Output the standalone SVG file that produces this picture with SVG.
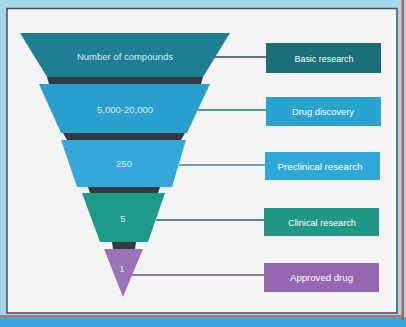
<svg xmlns="http://www.w3.org/2000/svg" width="406" height="327" viewBox="0 0 406 327">
<style>
.ft{font-family:"Liberation Sans",Arial,sans-serif;font-size:9.5px;fill:#d6eef4;text-anchor:middle}
.bt{font-family:"Liberation Sans",Arial,sans-serif;font-size:9.5px;fill:#ffffff;text-anchor:middle}
.band{fill:#2f3a44}
.ln{stroke-width:1.6;fill:none}
</style>
<rect x="0" y="0" width="406" height="327" fill="#a3d8ec"/>
<rect x="0" y="317" width="406" height="10" fill="#3ba6df"/>
<rect x="401.5" y="0" width="2.5" height="320" fill="#c8564a"/>
<rect x="0" y="315" width="404" height="2" fill="#c86a60"/>
<rect x="7" y="8.5" width="390" height="304.5" fill="#f4f4f7" stroke="#4e4e50" stroke-width="1.5"/>
<g id="connectors">
<line class="ln" x1="214" y1="57" x2="267" y2="57" stroke="#2c4b55"/>
<line class="ln" x1="198" y1="110" x2="267" y2="110" stroke="#2a6c7c"/>
<line class="ln" x1="179" y1="165" x2="267" y2="165" stroke="#3a8aa0"/>
<line class="ln" x1="156" y1="220" x2="265" y2="220" stroke="#1f6b62"/>
<line class="ln" x1="132" y1="275" x2="265" y2="275" stroke="#6b5584"/>
</g>
<g id="funnel-1">
<polygon points="20,33 230,33 203,77 47,77" fill="#1f7f92"/>
<polygon class="band" points="47,77 203,77 201,84 49,84"/>
<text class="ft" x="125" y="60">Number of compounds</text>
</g>
<g id="funnel-2">
<polygon points="39,84 210,84 187,133 61,133" fill="#2a9fcb"/>
<polygon class="band" points="63,133 185,133 181,140 67,140"/>
<text class="ft" x="125" y="113">5,000-20,000</text>
</g>
<g id="funnel-3">
<polygon points="61,140 186,140 172,187 77,187" fill="#37a7d9"/>
<polygon class="band" points="88,187 160,187 158,193 90,193"/>
<text class="ft" x="124" y="167">250</text>
</g>
<g id="funnel-4">
<polygon points="82,193 165,193 148,242 100,242" fill="#1f9a8a"/>
<polygon class="band" points="112,242 136,242 135,249 113,249"/>
<text class="ft" x="123" y="222">5</text>
</g>
<g id="funnel-5">
<polygon points="104,249 143,249 123,297" fill="#9b74b8"/>
<text class="ft" x="122" y="272">1</text>
</g>
<g id="box-basic">
<rect x="266" y="43" width="115" height="30" fill="#1c6e79"/>
<text class="bt" x="324" y="61.5" textLength="59" lengthAdjust="spacingAndGlyphs">Basic research</text>
</g>
<g id="box-discovery">
<rect x="266" y="97" width="115" height="29" fill="#2aa3cf"/>
<text class="bt" x="323" y="115" textLength="62" lengthAdjust="spacingAndGlyphs">Drug discovery</text>
</g>
<g id="box-preclinical">
<rect x="265" y="152" width="115" height="28" fill="#2fa8d8"/>
<text class="bt" x="320" y="169.5" textLength="85" lengthAdjust="spacingAndGlyphs">Preclinical research</text>
</g>
<g id="box-clinical">
<rect x="264" y="208" width="115" height="28" fill="#1f9886"/>
<text class="bt" x="322" y="225.5" textLength="68" lengthAdjust="spacingAndGlyphs">Clinical research</text>
</g>
<g id="box-approved">
<rect x="264" y="263" width="115" height="29" fill="#9467b2"/>
<text class="bt" x="321.5" y="281" textLength="63" lengthAdjust="spacingAndGlyphs">Approved drug</text>
</g>
</svg>
